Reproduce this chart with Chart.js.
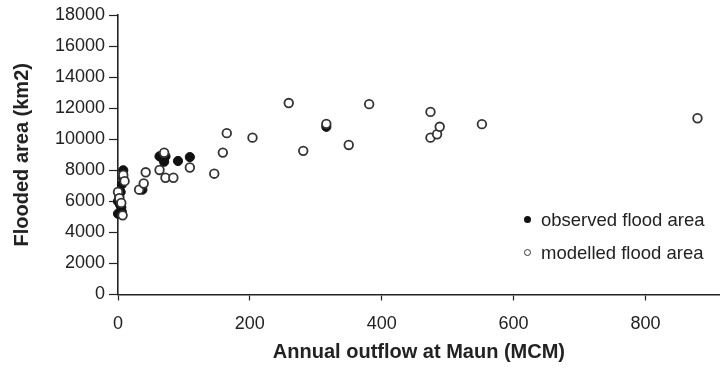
<!DOCTYPE html>
<html>
<head>
<meta charset="utf-8">
<script src="https://cdn.jsdelivr.net/npm/chart.js@4.4.1/dist/chart.umd.min.js"></script>
<style>
  html, body { margin: 0; padding: 0; background: #fff; }
  #wrap { position: relative; width: 726px; height: 368px; }
  .legend { position: absolute; left: 524px; font: 18.5px "Liberation Sans", Arial, sans-serif; color: #222; }
  .legend div { height: 33px; display: flex; align-items: center; }
  .dot { display: inline-block; width: 7px; height: 7px; border-radius: 50%; margin-right: 10px; box-sizing: border-box; }
  .dot.filled { background: #111; }
  .dot.open { border: 1.5px solid #333; background: #fff; }
</style>
</head>
<body>
<div id="wrap">
  <canvas id="chart" width="726" height="368"></canvas>
  <div class="legend" style="top:203px">
    <div><span class="dot filled"></span>observed flood area</div>
    <div><span class="dot open"></span>modelled flood area</div>
  </div>
</div>
<script>
// ---- Données ----
const observedX = [0, 2, 3, 5, 0, 6, 4, 6, 8, 8, 37, 63, 68, 70, 72, 91, 109, 316];
const observedY = [5200, 6300, 5800, 5600, 6000, 5300, 6600, 7100, 7500, 8000, 6750, 8900, 8750, 8550, 8900, 8600, 8850, 10800];

const modelledX = [0, 2, 5, 7, 8, 10, 32, 39, 42, 63, 70, 72, 84, 109, 146, 159, 165, 204, 259, 281, 316, 350, 381, 474, 474, 484, 488, 552, 879];
const modelledY = [6600, 6200, 5900, 5100, 7700, 7300, 6750, 7150, 7870, 8020, 9130, 7520, 7520, 8180, 7780, 9140, 10390, 10100, 12330, 9250, 10990, 9630, 12260, 11760, 10100, 10320, 10800, 10970, 11350];

const xTicks = [0, 200, 400, 600, 800];
const yTicks = [0, 2000, 4000, 6000, 8000, 10000, 12000, 14000, 16000, 18000];

const toPoints = (xs, ys) => xs.map((x, i) => ({ x, y: ys[i] }));

const tickFont = { family: '"Liberation Sans", Arial, sans-serif', size: 18 };
const titleFont = { family: '"Liberation Sans", Arial, sans-serif', size: 20, weight: 'bold' };
const ink = '#222';

new Chart(document.getElementById('chart'), {
  type: 'scatter',
  data: {
    datasets: [
      {
        label: 'modelled flood area',
        data: toPoints(modelledX, modelledY),
        pointRadius: 4.3,
        pointBorderWidth: 1.8,
        pointBackgroundColor: '#fff',
        pointBorderColor: '#333',
        clip: false
      },
      {
        label: 'observed flood area',
        data: toPoints(observedX, observedY),
        pointRadius: 4.6,
        pointBorderWidth: 1,
        pointBackgroundColor: '#111',
        pointBorderColor: '#111',
        clip: false
      }
    ]
  },
  options: {
    responsive: false,
    animation: false,
    layout: { padding: { top: 15, right: 0, left: 0, bottom: 0 } },
    plugins: {
      legend: { display: false },
      tooltip: { enabled: false }
    },
    scales: {
      x: {
        type: 'linear',
        min: 0,
        max: 913,
        afterFit: s => { s.height = 73.5; },
        afterBuildTicks: s => { s.ticks = xTicks.map(v => ({ value: v })); },
        grid: { drawOnChartArea: false, color: ink, tickLength: 6, tickWidth: 1.2 },
        border: { color: ink, width: 1.6 },
        ticks: { color: ink, font: tickFont, padding: 13, maxRotation: 0, callback: v => String(v) },
        title: { display: true, text: 'Annual outflow at Maun (MCM)', color: ink, font: titleFont, padding: { top: 8 } }
      },
      y: {
        type: 'linear',
        min: 0,
        max: 18000,
        afterFit: s => { s.width = 118; },
        afterBuildTicks: s => { s.ticks = yTicks.map(v => ({ value: v })); },
        grid: { drawOnChartArea: false, color: ink, tickLength: 9, tickWidth: 1.2 },
        border: { color: ink, width: 1.6 },
        ticks: { color: ink, font: tickFont, padding: 4, callback: v => String(v) },
        title: { display: true, text: 'Flooded area (km2)', color: ink, font: titleFont, padding: { top: 10 } }
      }
    }
  }
});
</script>
</body>
</html>
